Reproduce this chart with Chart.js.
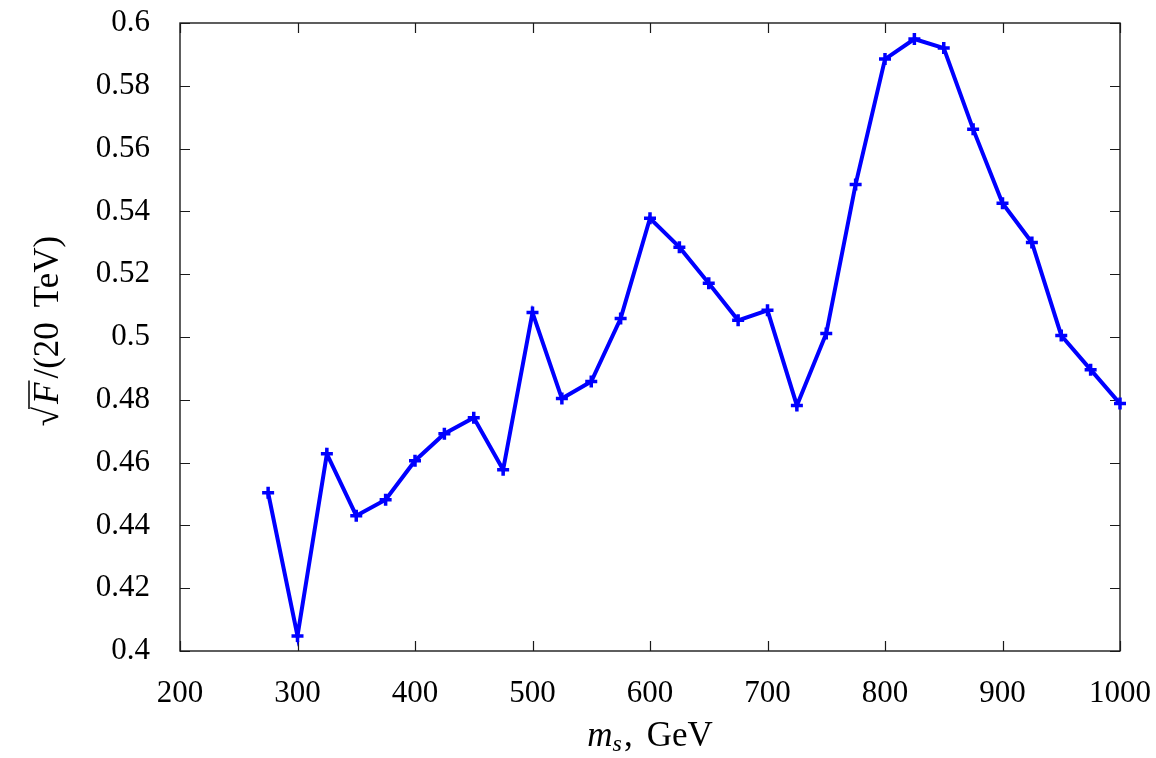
<!DOCTYPE html>
<html>
<head>
<meta charset="utf-8">
<script src="https://cdn.jsdelivr.net/npm/chart.js@4/dist/chart.umd.min.js"></script>
<style>
  html, body { margin: 0; padding: 0; background: #fff; }
  #wrap { width: 1156px; height: 758px; }
</style>
</head>
<body>
<div id="wrap"><canvas id="c" width="1156" height="758"></canvas></div>
<script>
const massValues = [275, 300, 325, 350, 375, 400, 425, 450, 475, 500, 525, 550, 575, 600, 625, 650, 675, 700, 725, 750, 775, 800, 825, 850, 875, 900, 925, 950, 975, 1000];
const sqrtFValues = [0.4504, 0.4048, 0.4628, 0.4431, 0.4482, 0.4606, 0.4692, 0.4743, 0.4577, 0.5078, 0.4804, 0.4858, 0.5059, 0.5378, 0.5286, 0.5171, 0.5053, 0.5085, 0.4782, 0.5011, 0.5486, 0.5885, 0.5949, 0.5920, 0.5662, 0.5426, 0.5301, 0.5005, 0.4896, 0.4788];
const xTickValues = [200, 300, 400, 500, 600, 700, 800, 900, 1000];
const yTickValues = [0.4, 0.42, 0.44, 0.46, 0.48, 0.5, 0.52, 0.54, 0.56, 0.58, 0.6];
const yTickLabels = ['0.4', '0.42', '0.44', '0.46', '0.48', '0.5', '0.52', '0.54', '0.56', '0.58', '0.6'];
const xTitleParts = ['m', 's', ',', 'GeV'];
const yTitleParts = ['\u221A', 'F', '/(20', 'TeV)'];

const FONT = '"Liberation Serif", "DejaVu Serif", serif';

const framePlugin = {
  id: 'frame',
  beforeDatasetsDraw(chart) {
    const ctx = chart.ctx;
    const a = chart.chartArea;
    const xs = chart.scales.x, ys = chart.scales.y;
    ctx.save();
    ctx.strokeStyle = '#1a1a1a';
    ctx.lineWidth = 1.4;
    ctx.strokeRect(a.left, a.top, a.right - a.left, a.bottom - a.top);
    ctx.lineWidth = 1.2;
    ctx.beginPath();
    const tl = 10;
    xTickValues.forEach(v => {
      const px = Math.round(xs.getPixelForValue(v)) + 0.5;
      ctx.moveTo(px, a.bottom); ctx.lineTo(px, a.bottom - tl);
      ctx.moveTo(px, a.top); ctx.lineTo(px, a.top + tl);
    });
    yTickValues.forEach(v => {
      const py = Math.round(ys.getPixelForValue(v)) + 0.5;
      ctx.moveTo(a.left, py); ctx.lineTo(a.left + tl, py);
      ctx.moveTo(a.right, py); ctx.lineTo(a.right - tl, py);
    });
    ctx.stroke();
    ctx.restore();
  },
  afterDraw(chart) {
    const ctx = chart.ctx;
    const a = chart.chartArea;
    ctx.save();
    ctx.fillStyle = '#000';
    ctx.textBaseline = 'alphabetic';
    ctx.textAlign = 'left';
    const fN = '35px ' + FONT, fI = 'italic 35px ' + FONT, fS = 'italic 24px ' + FONT;
    // x title
    ctx.font = fI; const w1 = ctx.measureText(xTitleParts[0]).width;
    ctx.font = fS; const w2 = ctx.measureText(xTitleParts[1]).width;
    ctx.font = fN; const w3 = ctx.measureText(xTitleParts[2]).width;
    const w4 = ctx.measureText(xTitleParts[3]).width;
    const gap = 14;
    const tot = w1 + w2 + 2 + w3 + gap + w4;
    let x0 = (a.left + a.right) / 2 - tot / 2;
    const yb = 746;
    ctx.font = fI; ctx.fillText(xTitleParts[0], x0, yb);
    ctx.font = fS; ctx.fillText(xTitleParts[1], x0 + w1, yb + 5);
    ctx.font = fN; ctx.fillText(xTitleParts[2], x0 + w1 + w2 + 2, yb);
    ctx.fillText(xTitleParts[3], x0 + w1 + w2 + 2 + w3 + gap, yb);
    // y title
    ctx.translate(58, (a.top + a.bottom) / 2 - 6);
    ctx.rotate(-Math.PI / 2);
    ctx.font = fN; const s1 = ctx.measureText(yTitleParts[0]).width;
    ctx.font = fI; const s2 = ctx.measureText(yTitleParts[1]).width;
    ctx.font = fN; const s3 = ctx.measureText(yTitleParts[2]).width;
    const s4 = ctx.measureText(yTitleParts[3]).width;
    const g2 = 15;
    const t2 = s1 + 3 + s2 + 4 + s3 + g2 + s4;
    let xx = -t2 / 2;
    ctx.font = fN; ctx.fillText(yTitleParts[0], xx, 0);
    ctx.font = fI; ctx.fillText(yTitleParts[1], xx + s1 + 3, 0);
    ctx.strokeStyle = '#000'; ctx.lineWidth = 1.5;
    ctx.beginPath();
    ctx.moveTo(xx + s1 - 2, -29); ctx.lineTo(xx + s1 + s2 + 5, -29);
    ctx.stroke();
    ctx.font = fN; ctx.fillText(yTitleParts[2], xx + s1 + 3 + s2 + 4, 0);
    ctx.fillText(yTitleParts[3], xx + s1 + 3 + s2 + 4 + s3 + g2, 0);
    ctx.restore();
  }
};

new Chart(document.getElementById('c'), {
  type: 'line',
  data: {
    datasets: [{
      data: massValues.map((m, i) => ({ x: m, y: sqrtFValues[i] })),
      borderColor: '#0000ff',
      backgroundColor: '#0000ff',
      borderWidth: 4,
      pointStyle: 'cross',
      pointRadius: 6,
      pointBorderWidth: 3.5,
      pointHoverRadius: 6,
      tension: 0,
      clip: false
    }]
  },
  options: {
    responsive: false,
    animation: false,
    events: [],
    layout: { padding: { left: 0, top: 23, right: 36, bottom: 0 } },
    plugins: { legend: { display: false }, tooltip: { enabled: false } },
    scales: {
      x: {
        type: 'linear',
        min: 200, max: 1000,
        grid: { display: false },
        border: { display: false },
        afterBuildTicks(s) { s.ticks = xTickValues.map(v => ({ value: v })); },
        afterFit(s) { s.height = 107; s.paddingLeft = 0; s.paddingRight = 0; },
        ticks: {
          color: '#000',
          padding: 16,
          maxRotation: 0,
          font: { family: FONT, size: 31 },
          callback: v => String(v)
        }
      },
      y: {
        type: 'linear',
        min: 0.4, max: 0.6,
        grid: { display: false },
        border: { display: false },
        afterBuildTicks(s) { s.ticks = yTickValues.map(v => ({ value: v })); },
        afterFit(s) { s.width = 180; s.paddingTop = 0; s.paddingBottom = 0; },
        ticks: {
          color: '#000',
          padding: 22,
          font: { family: FONT, size: 31 },
          callback: (v) => {
            const i = yTickValues.findIndex(t => Math.abs(t - v) < 1e-9);
            return i >= 0 ? yTickLabels[i] : '';
          }
        }
      }
    }
  },
  plugins: [framePlugin]
});
</script>
</body>
</html>
